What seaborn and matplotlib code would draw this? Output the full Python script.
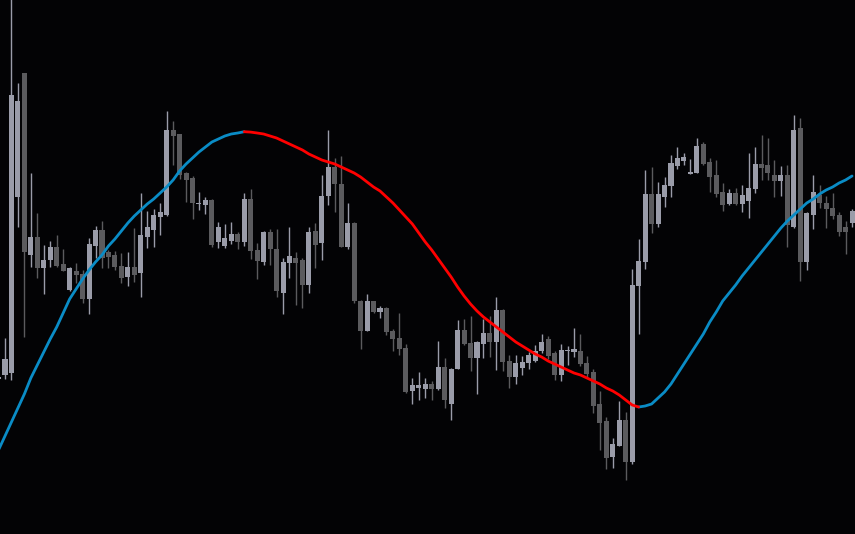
import numpy as np
import pandas as pd
import matplotlib
matplotlib.use("Agg")
import matplotlib.pyplot as plt
import seaborn as sns

# bar numbers, bar -1 is cut off by the left edge
bars = list(range(-1, 132))

opens = [155, 159, 161, 337, 461, 279, 297, 266, 274, 287,
         270, 244, 263, 260, 235, 288, 304, 282, 279, 268,
         257, 267, 261, 297, 304, 317, 319, 404, 400, 361,
         356, 330, 329, 334, 292, 288, 293, 300, 292, 335,
         284, 272, 302, 285, 241, 271, 276, 274, 249, 303,
         291, 338, 367, 350, 287, 311, 233, 203, 233, 222,
         226, 203, 196, 186, 143, 146, 145, 150, 145, 167,
         130, 165, 204, 191, 176, 190, 201, 192, 224, 173,
         157, 166, 171, 173, 183, 195, 181, 159, 183, 182,
         183, 171, 162, 130, 113, 77, 88, 114, 72, 248,
         272, 340, 310, 337, 348, 368, 373, 360.5, 361, 390,
         372, 359, 342, 330, 341, 330, 333, 345, 370, 369,
         359, 353, 359, 307, 406, 272, 319, 339, 331, 326,
         319, 307, 311]

highs = [159, 196, 546, 451, 461, 361, 321, 289, 293, 299,
         285, 267, 271, 264, 296, 308, 313, 284, 283, 281,
         282, 306, 341, 323, 325, 331, 423, 413, 400, 362,
         358, 342, 337, 335, 312, 310, 312, 302, 341, 345,
         291, 303, 305, 305, 276, 307, 282, 276, 307, 311,
         359, 404, 376, 378, 331, 312, 234, 240, 233, 228,
         227, 205, 221, 190, 156, 162, 156, 153, 193, 176,
         166, 214, 215, 218, 193, 215, 218, 237, 225, 179,
         179, 178, 182, 189, 200, 198, 183, 190, 188, 206,
         200, 178, 165, 143, 117, 96, 133, 122, 265, 295,
         364, 367, 352, 357, 379, 387, 381, 375, 396, 392,
         376, 374, 351, 345, 346, 349, 381, 387, 399, 396,
         374, 368, 369, 419, 416, 322, 359, 349, 338, 341,
         322, 313, 325]

lows = [153, 155, 154, 307, 197, 267, 256, 240, 267, 267,
        263, 243, 251, 231, 220, 276, 266, 266, 264, 251,
        248, 252, 237, 286, 287, 299, 318, 369, 355, 332,
        315, 324, 320, 287, 286, 286, 290, 285, 288, 275,
        255, 269, 269, 237, 220, 256, 229, 226, 241, 266,
        274, 329, 322, 287, 285, 231, 185, 203, 221, 216,
        199, 183, 179, 141, 130, 134, 136, 134, 144, 126,
        114, 165, 189, 163, 140, 176, 177, 164, 163, 146,
        150, 159, 165, 172, 181, 175, 154, 153, 169, 177,
        168, 157, 121, 84, 65, 66, 88, 54, 70, 200,
        265, 301, 307, 327, 337, 365, 369, 360, 361, 369,
        342, 337, 323, 329, 329, 322, 316, 341, 354, 354,
        337, 338, 287, 306, 253, 264, 305, 326, 306, 315,
        298, 280, 307]

closes = [157, 175, 439, 433, 282, 297, 266, 274, 287, 268,
          263, 266, 259, 235, 290, 304, 276, 277, 267, 256,
          267, 259, 299, 307, 319, 322, 404, 398, 359, 354,
          331, 331, 334, 289, 307, 296, 300, 292, 335, 283,
          273, 302, 285, 243, 272, 278, 271, 249, 302, 289,
          338, 367, 350, 287, 311, 233, 203, 233, 222, 226,
          202, 195, 185, 142, 149, 149, 150, 145, 167, 134,
          165, 204, 190, 176, 192, 201, 192, 224, 172, 157,
          171, 172, 179, 183, 192, 178, 159, 184, 184, 185,
          170, 160, 128, 111, 76, 90, 114, 72, 249, 273,
          340, 310, 340, 349, 371, 376, 377, 361.5, 388, 370,
          357, 340, 329, 341, 330, 339, 346, 370, 366, 361,
          353, 359, 309, 404, 272, 321, 342, 331, 325, 318,
          302, 302, 323]

# smoothed moving average, one value per bar
ma = [84, 98, 112, 126, 140, 156, 169, 182, 195, 207,
      221, 235, 245, 255, 264, 272, 279, 288, 295, 303,
      311, 318, 324, 330, 335, 341, 347, 354, 363, 370,
      376, 382, 387, 392, 395, 398, 400, 401, 402.3, 401.9,
      401, 400, 398, 396, 393, 390, 387, 384, 380, 377,
      374, 372, 370, 367, 364, 361, 357, 352, 347, 343,
      337, 331, 324, 317, 310, 301, 292, 284, 275, 266,
      257, 247, 238, 230, 223, 217, 212, 207, 202, 197,
      192, 188, 184, 180, 177, 173, 170, 167, 164, 161,
      159, 156, 153, 150, 146, 143, 139, 134, 129, 127,
      128, 130, 136, 142, 150, 160, 170, 180, 190, 200,
      212, 222, 233, 241, 249, 258, 266, 274, 282, 290,
      298, 306, 313, 319, 325, 331, 335, 340, 344, 347,
      351, 354, 358]

BG = '#030305'
BULL = '#9a9ca9'
BEAR = '#5b5b5e'
MA_UP = '#0a8cc6'
MA_DOWN = '#ff0000'


def ma_segments(bars, ma):
    # split the average into rising / falling runs so each gets its colour
    rows = []
    run = 0
    last = None
    for k in range(len(ma) - 1):
        d = 'up' if ma[k + 1] >= ma[k] else 'down'
        if d != last:
            run += 1
            last = d
        rows.append((run, d, bars[k], ma[k]))
        rows.append((run, d, bars[k + 1], ma[k + 1]))
    seg = pd.DataFrame(rows, columns=['run', 'dir', 'bar', 'ma'])
    return seg.drop_duplicates()


def main():
    sns.set_style('dark', {'axes.facecolor': BG, 'figure.facecolor': BG})
    df = pd.DataFrame({'bar': bars, 'open': opens, 'high': highs,
                       'low': lows, 'close': closes})
    df['color'] = np.where(df['close'] >= df['open'], BULL, BEAR)

    fig = plt.figure(figsize=(8.55, 5.34), dpi=100)
    ax = fig.add_axes([0, 0, 1, 1])

    ax.vlines(df['bar'], df['low'], df['high'], colors=df['color'], linewidth=1.0)
    body = np.maximum((df['close'] - df['open']).abs(), 1.5)
    ax.bar(df['bar'], body, bottom=df[['open', 'close']].min(axis=1),
           width=0.78, color=df['color'], linewidth=0, antialiased=False)

    seg = ma_segments(bars, ma)
    sns.lineplot(data=seg, x='bar', y='ma', hue='dir', units='run',
                 estimator=None, palette={'up': MA_UP, 'down': MA_DOWN},
                 linewidth=2.0, legend=False, ax=ax)

    ax.set_xlim(-0.773, 131.46)
    ax.set_ylim(0, 534)
    ax.axis('off')
    fig.savefig('out.png', dpi=100, facecolor=BG)


if __name__ == "__main__":
    main()
